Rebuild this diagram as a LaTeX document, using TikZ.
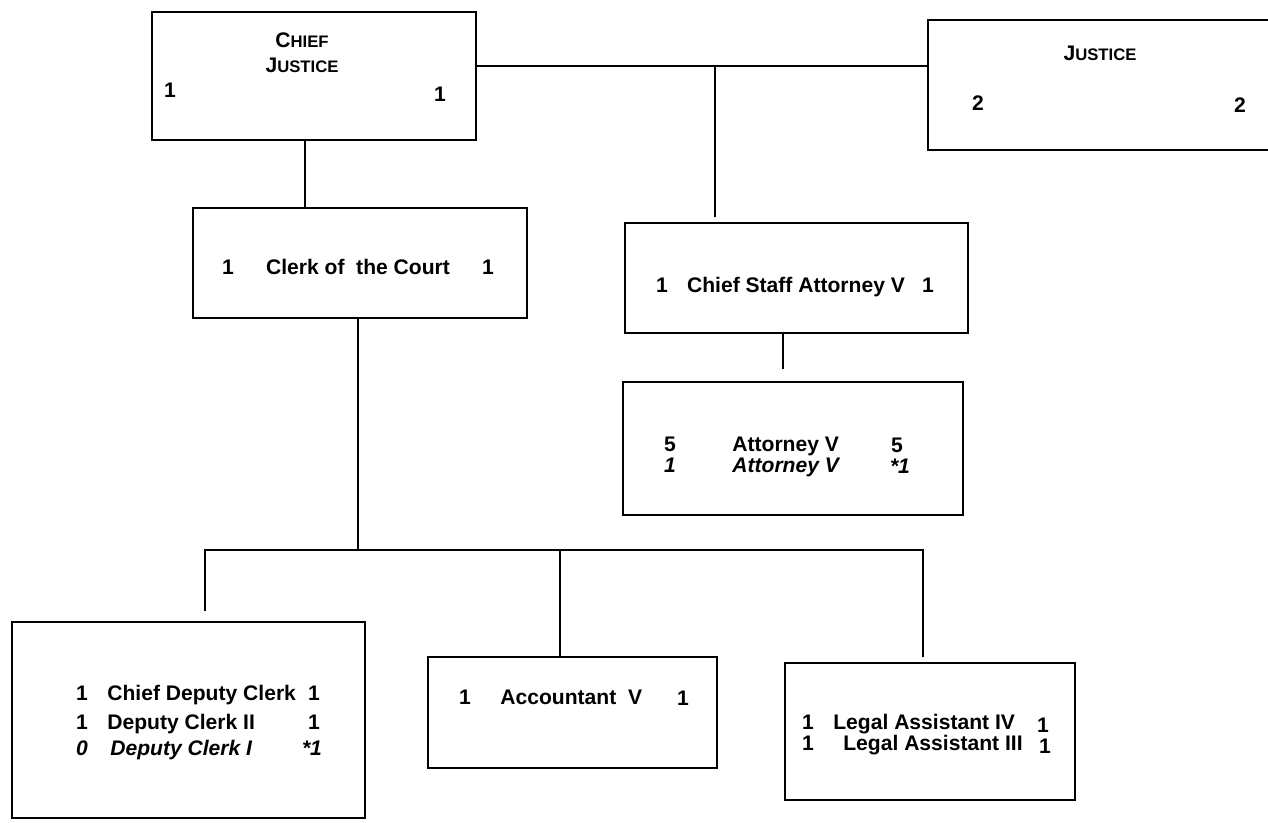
\documentclass[tikz,border=0pt]{standalone}
\usepackage{fontspec}
\setmainfont{Liberation Sans}
\usetikzlibrary{positioning,calc}

\newcommand{\smallcap}[2]{#1{\fontsize{9.5}{14}\selectfont #2}}

\begin{document}
\begin{tikzpicture}[x=0.02cm, y=-0.02cm,
        box/.style={rectangle, draw, line width=1.5pt, inner sep=0pt},
        txt/.style={inner sep=0pt, anchor=base, font=\fontsize{12}{14}\selectfont\bfseries},
        ttl/.style={txt, anchor=base west},
        itl/.style={txt, font=\fontsize{12}{14}\selectfont\bfseries\itshape},
        itt/.style={itl, anchor=base west},
        link/.style={line width=1.2pt}]

        \useasboundingbox (0,0) rectangle (1268,822);
        \clip (0,0) rectangle (1268,822);

        % Chief Justice
        \node[box, minimum width=6.48cm, minimum height=2.56cm] (cj) at (314,76) {};
        \node[txt, align=center, anchor=center] (cjt) at (302,53) {\smallcap{C}{HIEF}\\\smallcap{J}{USTICE}};
        \node[txt] (cjl) at (170,97) {1};
        \node[txt] (cjr) at (440,101) {1};

        % Justice
        \node[box, minimum width=7.44cm, minimum height=2.6cm] (jus) at (1114,85) {};
        \node[txt] (just) at (1100,60) {\smallcap{J}{USTICE}};
        \node[txt] (jusl) at (978,110) {2};
        \node[txt] (jusr) at (1240,112) {2};

        % Clerk of the Court
        \node[box, minimum width=6.68cm, minimum height=2.2cm] (clerk) at (360,263) {};
        \node[txt] (clerkl) at (228,274) {1};
        \node[txt] (clerkt) at (358,274) {Clerk of\ \ the Court};
        \node[txt] (clerkr) at (488,274) {1};

        % Chief Staff Attorney
        \node[box, minimum width=6.86cm, minimum height=2.2cm] (csa) at (796.5,278) {};
        \node[txt] (csal) at (662,292) {1};
        \node[txt] (csat) at (796,292) {Chief Staff Attorney V};
        \node[txt] (csar) at (928,292) {1};

        % Attorneys
        \node[box, minimum width=6.8cm, minimum height=2.66cm] (atty) at (793,448.5) {};
        \node[txt] (attyl1) at (670,451) {5};
        \node[ttl] (attyt1) at (732,451) {Attorney V};
        \node[txt] (attyr1) at (897,452) {5};
        \node[itl] (attyl2) at (670,472) {1};
        \node[itt] (attyt2) at (732,472) {Attorney V};
        \node[itl] (attyr2) at (900,473) {*1};

        % Deputy clerks
        \node[box, minimum width=7.06cm, minimum height=3.92cm] (dep) at (188.5,720) {};
        \node[txt] (depl1) at (82,700) {1};
        \node[ttl] (dept1) at (107,700) {Chief Deputy Clerk};
        \node[txt] (depr1) at (314,700) {1};
        \node[txt] (depl2) at (82,729) {1};
        \node[ttl] (dept2) at (107,729) {Deputy Clerk II};
        \node[txt] (depr2) at (314,729) {1};
        \node[itl] (depl3) at (82,755) {0};
        \node[itt] (dept3) at (110,755) {Deputy Clerk I};
        \node[itl] (depr3) at (312,755) {*1};

        % Accountant
        \node[box, minimum width=5.78cm, minimum height=2.22cm] (acct) at (572.5,712.5) {};
        \node[txt] (acctl) at (465,704) {1};
        \node[ttl] (acctt) at (500,704) {Accountant\ \ V};
        \node[txt] (acctr) at (683,705) {1};

        % Legal assistants
        \node[box, minimum width=5.8cm, minimum height=2.74cm] (legal) at (930,731.5) {};
        \node[txt] (legall1) at (808,729) {1};
        \node[ttl] (legalt1) at (833,729) {Legal Assistant IV};
        \node[txt] (legalr1) at (1043,732) {1};
        \node[txt] (legall2) at (808,750) {1};
        \node[ttl] (legalt2) at (843,750) {Legal Assistant III};
        \node[txt] (legalr2) at (1045,753) {1};

        % Connectors
        \coordinate (top) at (715,66);
        \draw[link] (top -| cj.east) -- (top -| jus.west);
        \draw[link, shorten >=2.8pt] (top) -- (top |- csa.north);

        \coordinate (cjdrop) at (305,0);
        \draw[link] (cjdrop |- cj.south) -- (cjdrop |- clerk.north);

        \coordinate (csadrop) at (783,0);
        \draw[link, shorten >=6.5pt] (csadrop |- csa.south) -- (csadrop |- atty.north);

        \coordinate (bus) at (358,550);
        \coordinate (busl) at (205,550);
        \coordinate (busm) at (560,550);
        \coordinate (busr) at (923,550);
        \draw[link] (bus |- clerk.south) -- (bus);
        \draw[link, shorten <=5.5pt, shorten >=2.8pt] (busl |- dep.north) -- (busl) -- (busr) -- (busr |- legal.north);
        \draw[link] (busm) -- (busm |- acct.north);

\end{tikzpicture}
\end{document}
